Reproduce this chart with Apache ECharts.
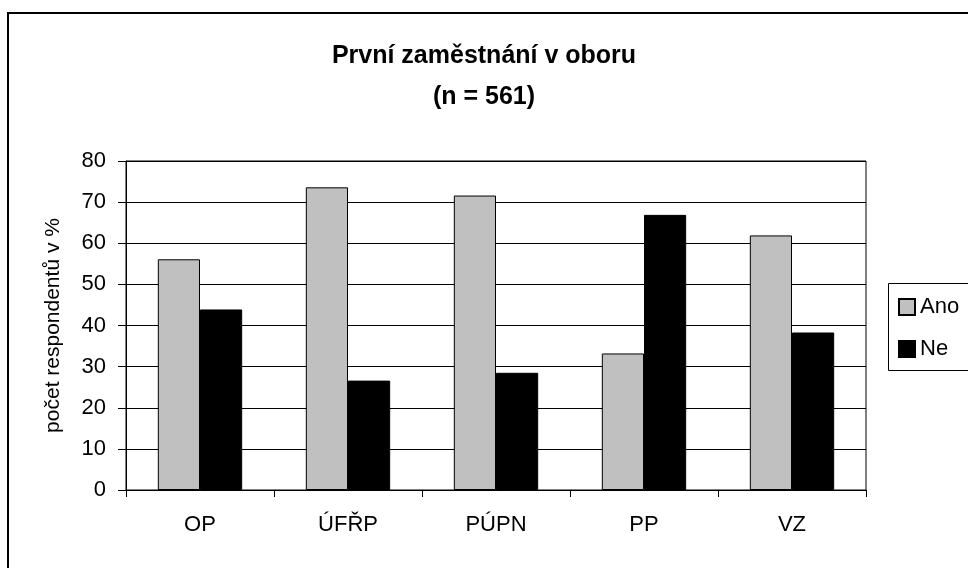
<!DOCTYPE html>
<html lang="cs">
<head>
    <meta charset="UTF-8">
    <title>První zaměstnání v oboru</title>
    <script src="https://cdn.jsdelivr.net/npm/echarts@6/dist/echarts.min.js"></script>
    <style>
        html, body { margin: 0; padding: 0; background: #fff; }
    </style>
</head>
<body>
<div id="chart" style="width:968px;height:568px;"></div>
<script>
    var categories = ['OP', 'ÚFŘP', 'PÚPN', 'PP', 'VZ'];
    var ano = [56.1, 73.6, 71.6, 33.2, 61.9];
    var ne = [43.9, 26.6, 28.5, 66.9, 38.3];
    var yTicks = [0, 10, 20, 30, 40, 50, 60, 70, 80];

    var font = 'Liberation Sans, Arial, sans-serif';
    var myChart = echarts.init(document.getElementById('chart'));
    var option = {
        animation: false,
        backgroundColor: '#fff',
        textStyle: { fontFamily: font, color: '#000' },
        title: {
            text: 'První zaměstnání v oboru\n(n = 561)',
            left: 'center',
            top: 31,
            textStyle: {
                fontFamily: font,
                fontSize: 25,
                fontWeight: 'bold',
                color: '#000',
                lineHeight: 41
            }
        },
        legend: {
            orient: 'vertical',
            left: 898,
            top: 296,
            padding: 0,
            itemWidth: 16,
            itemHeight: 16,
            itemGap: 20,
            icon: 'rect',
            textStyle: { fontFamily: font, fontSize: 22, color: '#000' },
            data: ['Ano', 'Ne']
        },
        graphic: [
            {
                type: 'rect',
                shape: { x: 8, y: 13, width: 1000, height: 600 },
                style: { fill: 'none', stroke: '#000', lineWidth: 2 }
            },
            {
                type: 'rect',
                shape: { x: 888.5, y: 283.5, width: 100, height: 87 },
                style: { fill: 'none', stroke: '#000', lineWidth: 1 }
            }
        ],
        grid: {
            left: 126,
            right: 102,
            top: 161,
            bottom: 78,
            show: true,
            borderColor: '#000',
            borderWidth: 1
        },
        xAxis: {
            type: 'category',
            data: categories,
            axisLine: { lineStyle: { color: '#000', width: 1 } },
            axisTick: { show: true, length: 7, lineStyle: { color: '#000' } },
            axisLabel: { fontFamily: font, fontSize: 22, color: '#000', margin: 24 }
        },
        yAxis: {
            type: 'value',
            min: yTicks[0],
            max: yTicks[yTicks.length - 1],
            interval: 10,
            name: 'počet respondentů v %',
            nameLocation: 'middle',
            nameGap: 62,
            nameTextStyle: { fontFamily: font, fontSize: 21, color: '#000' },
            axisLine: { show: true, lineStyle: { color: '#000', width: 1 } },
            axisTick: { show: true, length: 8, lineStyle: { color: '#000' } },
            axisLabel: { fontFamily: font, fontSize: 22, color: '#000', margin: 20 },
            splitLine: { show: true, lineStyle: { color: '#000', width: 1 } }
        },
        series: [
            {
                name: 'Ano',
                type: 'bar',
                data: ano,
                barGap: '0%',
                barCategoryGap: '43%',
                itemStyle: { color: '#c0c0c0', borderColor: '#000', borderWidth: 1 }
            },
            {
                name: 'Ne',
                type: 'bar',
                data: ne,
                itemStyle: { color: '#000', borderColor: '#000', borderWidth: 1 }
            }
        ]
    };
    myChart.setOption(option);
</script>
</body>
</html>
